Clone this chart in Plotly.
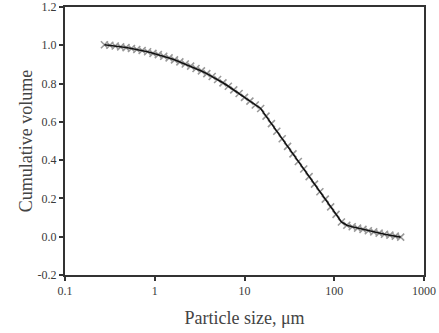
import plotly.graph_objects as go

# Particle size bins (um) and cumulative volume fraction
particle_size = [0.275, 0.316, 0.363, 0.417, 0.479, 0.550, 0.631, 0.724, 0.832, 0.955,
                 1.096, 1.259, 1.445, 1.660, 1.905, 2.188, 2.512, 2.884, 3.311, 3.802,
                 4.365, 5.012, 5.754, 6.607, 7.586, 8.710, 10.000, 11.482, 13.183, 15.136,
                 17.378, 19.953, 22.909, 26.303, 30.200, 34.674, 39.811, 45.709, 52.481, 60.256,
                 69.183, 79.433, 91.201, 104.713, 120.226, 138.038, 158.489, 181.970, 208.930, 239.883,
                 275.423, 316.228, 363.078, 416.869, 478.630, 549.541]
cumulative_volume = [1.003, 1.000, 0.996, 0.992, 0.988, 0.983, 0.978, 0.973, 0.966, 0.958,
                     0.951, 0.943, 0.934, 0.924, 0.913, 0.902, 0.891, 0.879, 0.866, 0.852,
                     0.837, 0.821, 0.804, 0.786, 0.767, 0.748, 0.728, 0.708, 0.688, 0.670,
                     0.630, 0.591, 0.551, 0.512, 0.472, 0.433, 0.393, 0.354, 0.314, 0.275,
                     0.235, 0.196, 0.156, 0.117, 0.077, 0.060, 0.052, 0.045, 0.038, 0.031,
                     0.025, 0.019, 0.013, 0.008, 0.003, -0.002]

x_tick_vals = [0.1, 1, 10, 100, 1000]
x_tick_text = ["0.1", "1", "10", "100", "1000"]
y_tick_vals = [-0.2, 0.0, 0.2, 0.4, 0.6, 0.8, 1.0, 1.2]
y_tick_text = ["-0.2", "0.0", "0.2", "0.4", "0.6", "0.8", "1.0", "1.2"]

fig = go.Figure()
fig.add_trace(go.Scatter(
    x=particle_size, y=cumulative_volume, mode="markers",
    marker=dict(symbol="x-thin", size=7, line=dict(width=1.6, color="#9a9a9a")),
    showlegend=False, hoverinfo="skip"))
fig.add_trace(go.Scatter(
    x=particle_size, y=cumulative_volume, mode="lines",
    line=dict(color="#111111", width=1.6), showlegend=False))

font_family = "Liberation Serif, Times New Roman, serif"
fig.update_layout(
    width=439, height=333,
    margin=dict(l=65, r=15, t=7, b=58),
    paper_bgcolor="white", plot_bgcolor="white",
    font=dict(family=font_family, color="#444444"),
    xaxis=dict(
        type="log", range=[-1, 3], automargin=False,
        tickvals=x_tick_vals, ticktext=x_tick_text,
        ticks="outside", ticklen=4, tickwidth=1.5, tickcolor="#333333",
        showline=True, linecolor="#333333", linewidth=2, mirror=True,
        showgrid=False, zeroline=False,
        tickfont=dict(size=12, family=font_family, color="#3a3a3a"),
        title=dict(text="Particle size, μm", font=dict(size=18, family=font_family, color="#444444"),
                   standoff=14),
    ),
    yaxis=dict(
        range=[-0.2, 1.2], automargin=False,
        tickvals=y_tick_vals, ticktext=y_tick_text,
        ticks="outside", ticklen=4, tickwidth=1.5, tickcolor="#333333",
        showline=True, linecolor="#333333", linewidth=2, mirror=True,
        showgrid=False, zeroline=False,
        tickfont=dict(size=12, family=font_family, color="#3a3a3a"),
        title=dict(text="Cumulative volume", font=dict(size=18, family=font_family, color="#444444"),
                   standoff=0),
    ),
)

fig.write_html("out.html", config={"displayModeBar": False},
               post_script="document.body.style.margin='0';")
